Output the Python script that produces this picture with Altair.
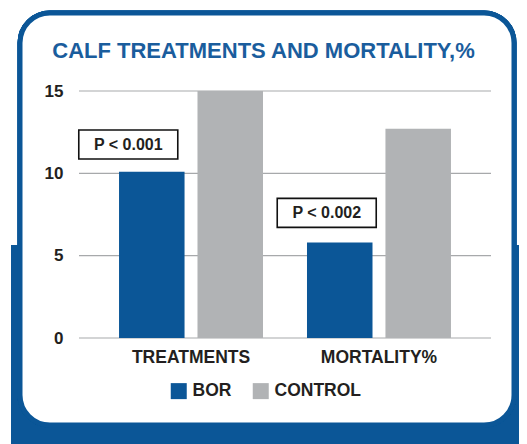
import altair as alt
import pandas as pd

# ---- data ----
categories = ["TREATMENTS", "MORTALITY%"]
groups = ["BOR", "CONTROL"]
bor_values = [10.1, 5.8]
control_values = [15.0, 12.7]
y_ticks = [0, 5, 10, 15]
p_labels = ["P < 0.001", "P < 0.002"]
p_label_y = [11.75, 7.6]

BLUE = "#0b5697"
GRAY = "#b1b3b5"
TITLE_BLUE = "#1a5d9d"
TEXT = "#231f20"
FONT = "Liberation Sans"

bars = pd.DataFrame({
    "category": categories * 2,
    "group": [groups[0]] * 2 + [groups[1]] * 2,
    "value": bor_values + control_values,
})
grid = pd.DataFrame({"v": y_ticks})
ann = pd.DataFrame({"category": categories, "group": ["BOR", "BOR"],
                    "y": p_label_y, "label": p_labels})

W, H = 412, 247

x_enc = alt.X("category:N", sort=categories,
              scale=alt.Scale(paddingInner=0.234, paddingOuter=0.213),
              axis=alt.Axis(title=None, labelAngle=0, domain=False, ticks=False,
                            tickSize=0, grid=False, labelPadding=10,
                            labelFontSize=17.5, labelFontWeight="bold",
                            labelColor=TEXT, labelFont=FONT, zindex=1))
y_scale = alt.Scale(domain=[0, 15], nice=False)
y_axis = alt.Axis(title=None, values=y_ticks, domain=False, ticks=False, tickSize=0,
                  grid=False, labelPadding=16, labelFontSize=17,
                  labelFontWeight="bold", labelColor=TEXT, labelFont=FONT, zindex=1)
xoff = alt.XOffset("group:N", sort=groups,
                   scale=alt.Scale(paddingInner=0.165, paddingOuter=0))

base = alt.Chart(bars)

# decorations: blue background block and rounded card
block = base.mark_rect(color=BLUE).encode(
    x=alt.value(-68), x2=alt.value(440), y=alt.value(154), y2=alt.value(353))
card = base.mark_rect(fill="white", stroke=BLUE, strokeWidth=5, cornerRadius=30).encode(
    x=alt.value(-59), x2=alt.value(435), y=alt.value(-78), y2=alt.value(334))

rules = alt.Chart(grid).mark_rule(color="#a7a9ab", strokeWidth=1.2).encode(
    y=alt.Y("v:Q", scale=y_scale, axis=y_axis))

barlayer = base.mark_bar().encode(
    x=x_enc,
    xOffset=xoff,
    y=alt.Y("value:Q", scale=y_scale, axis=y_axis),
    color=alt.Color("group:N", sort=groups,
                    scale=alt.Scale(domain=groups, range=[BLUE, GRAY]),
                    legend=alt.Legend(title=None, orient="none", legendX=91, legendY=291,
                                      direction="horizontal", symbolType="square",
                                      symbolSize=256, symbolStrokeWidth=0,
                                      labelFontSize=17.5, labelFontWeight="bold",
                                      labelFont=FONT, labelColor=TEXT, labelOffset=5,
                                      columnPadding=20, zindex=1)),
)

# box outlines around the p-value labels, shifted left of the BOR bar centre
box_paths = [
    "M-1.475,-0.293L0.525,-0.293L0.525,0.293L-1.475,0.293Z",
    "M-1.263,-0.293L0.737,-0.293L0.737,0.293L-1.263,0.293Z",
]
text_dx = [-23.5, -13]
ann_layers = []
for i in range(2):
    a = alt.Chart(ann).transform_filter(alt.datum.label == p_labels[i])
    box = a.mark_point(shape=box_paths[i], filled=False, stroke="#111", strokeWidth=1.6,
                       fill="white", fillOpacity=1, opacity=1).encode(
        x=alt.X("category:N", sort=categories),
        xOffset=alt.XOffset("group:N", sort=groups),
        y=alt.Y("y:Q", scale=y_scale),
        size=alt.value(9801))
    txt = a.mark_text(fontSize=16, fontWeight="bold", font=FONT, color=TEXT,
                      baseline="middle", align="center", dx=text_dx[i]).encode(
        x=alt.X("category:N", sort=categories),
        xOffset=alt.XOffset("group:N", sort=groups),
        y=alt.Y("y:Q", scale=y_scale),
        text="label:N")
    ann_layers += [box, txt]

chart = alt.layer(block, card, rules, barlayer, *ann_layers).properties(
    width=W, height=H,
    title=alt.TitleParams("CALF TREATMENTS AND MORTALITY,%", fontSize=22,
                          fontWeight="bold", font=FONT, color=TITLE_BLUE,
                          anchor="middle", frame="group", dx=-21.5, dy=85, offset=16,
                          baseline="alphabetic", zindex=1),
    autosize=alt.AutoSizeParams(type="none"),
    padding={"left": 71, "top": 83, "right": 28, "bottom": 106},
).configure_view(stroke=None).configure(background="white")

chart.save("out.html", embed_options={"renderer": "svg", "actions": False})
